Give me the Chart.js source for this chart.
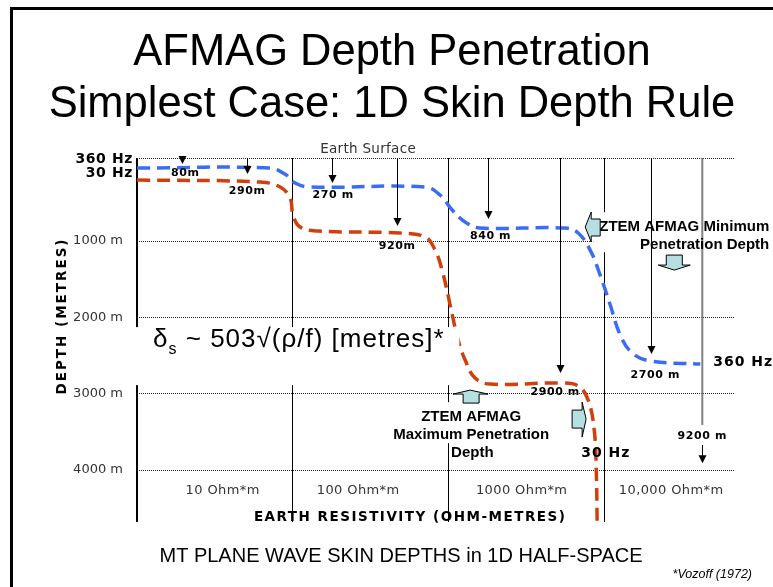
<!DOCTYPE html>
<html>
<head>
<meta charset="utf-8">
<script src="https://cdn.jsdelivr.net/npm/chart.js@4.4.1/dist/chart.umd.min.js"></script>
<style>
    html, body { margin: 0; padding: 0; background: #fff; }
    #skin_chart { display: block; }
</style>
</head>
<body>
<canvas id="skin_chart" width="773" height="587"></canvas>
<script>
// 数据: x = log10(电阻率 Ohm*m), y = 深度 (m, 示意)
const resistivityBounds = [1, 2, 3, 4];
const resistivityLabels = ["10 Ohm*m", "100 Ohm*m", "1000 Ohm*m", "10,000 Ohm*m"];
const resistivityLabelX = [1.55, 2.42, 3.47, 4.43];
const depthTicks = [1000, 2000, 3000, 4000];
const surfaceDepth = -88;
const maxDepth = 4680;

// 360 Hz 曲线
const curve360X = [1.0, 1.85, 1.95, 2.015, 2.11, 2.85, 2.946, 3.024, 3.107, 3.203, 3.749, 3.833, 3.91, 3.974, 4.039, 4.103, 4.18, 4.296, 4.617];
const curve360Y = [43, 43, 122, 240, 292, 292, 397, 593, 751, 829, 829, 895, 1118, 1445, 1838, 2231, 2466, 2571, 2611];

// 30 Hz 曲线
const curve30X = [1.0, 1.79, 1.919, 1.983, 2.002, 2.047, 2.163, 2.69, 2.85, 2.914, 2.959, 3.011, 3.062, 3.107, 3.171, 3.268, 3.717, 3.833, 3.897, 3.936, 3.949, 3.955];
const curve30Y = [200, 227, 292, 436, 659, 816, 869, 895, 947, 1118, 1380, 1838, 2297, 2559, 2795, 2873, 2860, 2899, 3083, 3476, 4000, 4700];

// 深度箭头
const arrowX = [1.29, 1.707, 2.253, 2.67, 3.255, 3.717, 4.302];
const arrowTipDepth = [-8, 122, 240, 803, 711, 2728, 2480];
const arrowText = ["80m", "290m", "270 m", "920m", "840 m", "2900 m", "2700 m"];
const arrowTextX = [1.31, 1.707, 2.26, 2.67, 3.27, 3.685, 4.328];
const arrowTextDepth = [105, 345, 400, 1070, 935, 2975, 2755];

const titleLines = ["AFMAG Depth Penetration", "Simplest Case: 1D Skin Depth Rule"];

var SkinChart = (function() {
    const LIGHT_BLUE = "#b5dfe1";

    function toPoints(xs, ys) {
        return xs.map((x, i) => ({ x: x, y: ys[i] }));
    }

    function drawArrow(ctx, x, y1, y2, color) {
        ctx.strokeStyle = color;
        ctx.fillStyle = color;
        ctx.lineWidth = 1;
        if (y2 - y1 > 8) {
            ctx.beginPath();
            ctx.moveTo(x, y1);
            ctx.lineTo(x, y2 - 7);
            ctx.stroke();
        }
        ctx.beginPath();
        ctx.moveTo(x - 4, y2 - 8);
        ctx.lineTo(x + 4, y2 - 8);
        ctx.lineTo(x, y2);
        ctx.closePath();
        ctx.fill();
    }

    // 浅蓝色块箭头
    function drawBlockArrow(ctx, tx, ty, dir) {
        let pts;
        if (dir === "left") {
            pts = [[0, 0], [6, -15], [6, -8], [15, -8], [15, 9], [6, 9], [6, 15]];
        } else if (dir === "right") {
            pts = [[0, 0], [-4, -17], [-4, -9], [-14, -9], [-14, 9], [-4, 9], [-4, 18]];
        } else if (dir === "up") {
            pts = [[0, 0], [18, 4], [9, 4], [9, 13], [-7, 13], [-7, 4], [-17, 4]];
        } else {
            pts = [[0, 0], [16, -5], [8, -5], [8, -15], [-8, -15], [-8, -5], [-16, -5]];
        }
        ctx.beginPath();
        pts.forEach((p, i) => {
            if (i === 0) ctx.moveTo(tx + p[0], ty + p[1]);
            else ctx.lineTo(tx + p[0], ty + p[1]);
        });
        ctx.closePath();
        ctx.fillStyle = LIGHT_BLUE;
        ctx.fill();
        ctx.strokeStyle = "#000";
        ctx.lineWidth = 1;
        ctx.stroke();
    }

    function whiteBox(ctx, x1, y1, x2, y2) {
        ctx.fillStyle = "#fff";
        ctx.fillRect(x1, y1, x2 - x1, y2 - y1);
    }

    const notesPlugin = {
        id: "notesPlugin",
        beforeDraw(chart) {
            const { ctx, width, height } = chart;
            ctx.save();
            ctx.fillStyle = "#fff";
            ctx.fillRect(0, 0, width, height);

            // 外框
            ctx.fillStyle = "#000";
            ctx.fillRect(10, 7, 3, height - 7);
            ctx.fillRect(10, 7, width - 10, 3);

            // 标题
            ctx.fillStyle = "#000";
            ctx.textAlign = "center";
            ctx.textBaseline = "alphabetic";
            ctx.font = '43.5px "Liberation Sans", Arial, sans-serif';
            ctx.fillText(titleLines[0], 392, 65);
            ctx.fillText(titleLines[1], 392, 117);

            // 底部说明
            ctx.font = '20px "Liberation Sans", Arial, sans-serif';
            ctx.fillText("MT PLANE WAVE SKIN DEPTHS in 1D HALF-SPACE", 401, 562);
            ctx.textAlign = "right";
            ctx.font = 'italic 12.5px "Liberation Sans", Arial, sans-serif';
            ctx.fillText("*Vozoff (1972)", 752, 578);
            ctx.restore();
        },
        afterDatasetsDraw(chart) {
            const { ctx } = chart;
            const xs = chart.scales.x;
            const ys = chart.scales.y;
            const px = (v) => xs.getPixelForValue(v);
            const py = (v) => ys.getPixelForValue(v);
            ctx.save();

            // 文本框遮挡
            whiteBox(ctx, px(0.99), py(2127), px(3.07), py(2887));
            whiteBox(ctx, px(2.638), py(3110), px(3.64), py(3647));
            whiteBox(ctx, px(3.93), py(622), chart.width, py(1146));

            // 深度箭头
            arrowX.forEach((x, i) => {
                drawArrow(ctx, Math.round(px(x)) + 0.5, ys.top, py(arrowTipDepth[i]), "#000");
            });
            // 9200 m (灰线 + 箭头)
            ctx.strokeStyle = "#808080";
            ctx.lineWidth = 2;
            ctx.beginPath();
            ctx.moveTo(px(4.63), ys.top);
            ctx.lineTo(px(4.63), py(3411));
            ctx.stroke();
            drawArrow(ctx, Math.round(px(4.63)) + 0.5, py(3672), py(3910), "#000");

            ctx.fillStyle = "#000";
            ctx.textAlign = "center";
            ctx.textBaseline = "middle";
            ctx.letterSpacing = "0.6px";
            ctx.font = 'bold 11px "DejaVu Sans", Verdana, sans-serif';
            arrowText.forEach((t, i) => {
                ctx.fillText(t, px(arrowTextX[i]), py(arrowTextDepth[i]));
            });
            ctx.fillText("9200 m", px(4.63), py(3555));

            // 地表
            ctx.fillStyle = "#333";
            ctx.letterSpacing = "0.3px";
            ctx.font = '13.5px "DejaVu Sans", Verdana, sans-serif';
            ctx.fillText("Earth Surface", px(2.484), py(-193));

            // 电阻率分区标签
            ctx.font = '13px "DejaVu Sans", Verdana, sans-serif';
            ctx.letterSpacing = "0.4px";
            resistivityLabels.forEach((t, i) => {
                ctx.fillText(t, px(resistivityLabelX[i]), py(4270));
            });

            // 轴标题
            ctx.fillStyle = "#000";
            ctx.font = 'bold 13.5px "DejaVu Sans", Verdana, sans-serif';
            ctx.letterSpacing = "1.5px";
            ctx.fillText("EARTH RESISTIVITY (OHM-METRES)", px(2.754), py(4615));
            ctx.save();
            ctx.translate(62, 316);
            ctx.rotate(-Math.PI / 2);
            ctx.letterSpacing = "2px";
            ctx.fillText("DEPTH (METRES)", 0, 0);
            ctx.restore();

            // 频率标签
            ctx.font = 'bold 14px "DejaVu Sans", Verdana, sans-serif';
            ctx.letterSpacing = "0.6px";
            ctx.textAlign = "right";
            ctx.fillText("360 Hz", px(0.974), py(-75));
            ctx.fillText("30 Hz", px(0.974), py(109));
            ctx.textAlign = "left";
            ctx.letterSpacing = "1px";
            ctx.fillText("360 Hz", px(4.7), py(2585));
            ctx.fillText("30 Hz", px(3.852), py(3777));

            // 公式
            ctx.letterSpacing = "1px";
            ctx.textBaseline = "alphabetic";
            ctx.font = '26px "Liberation Sans", Arial, sans-serif';
            let fx = px(1.103);
            const fy = py(2390);
            ctx.fillText("δ", fx, fy);
            fx += ctx.measureText("δ").width;
            ctx.font = '16px "Liberation Sans", Arial, sans-serif';
            ctx.fillText("s", fx, fy + 7);
            fx += ctx.measureText("s").width;
            ctx.font = '26px "Liberation Sans", Arial, sans-serif';
            ctx.fillText(" ~ 503\u221A(\u03C1/f) [metres]*", fx, fy);

            // ZTEM 文本
            ctx.letterSpacing = "0px";
            ctx.textBaseline = "middle";
            ctx.font = 'bold 15px "Liberation Sans", Arial, sans-serif';
            ctx.textAlign = "right";
            ctx.fillText("ZTEM AFMAG Minimum", px(5.06), py(816));
            ctx.fillText("Penetration Depth", px(5.06), py(1052));
            ctx.textAlign = "center";
            ctx.fillText("ZTEM AFMAG", px(3.146), py(3305));
            ctx.fillText("Maximum Penetration", px(3.146), py(3541));
            ctx.textAlign = "left";
            ctx.fillText("Depth", px(3.017), py(3777));

            // 块箭头
            drawBlockArrow(ctx, px(3.878), py(816), "left");
            drawBlockArrow(ctx, px(4.45), py(1380), "down");
            drawBlockArrow(ctx, px(3.139), py(2952), "up");
            drawBlockArrow(ctx, px(3.884), py(3332), "right");

            ctx.restore();
        },
    };

    function createChart(ctx_id) {
        const ctx = document.getElementById(ctx_id).getContext("2d");
        const lineStyle = {
            borderWidth: 3.5,
            borderDash: [13, 7],
            pointRadius: 0,
            tension: 0.4,
            fill: false,
        };
        return new Chart(ctx, {
            type: "line",
            data: {
                datasets: [
                    Object.assign({ label: "360 Hz", data: toPoints(curve360X, curve360Y), borderColor: "#3a6cf6" }, lineStyle),
                    Object.assign({ label: "30 Hz", data: toPoints(curve30X, curve30Y), borderColor: "#d0400c" }, lineStyle),
                ],
            },
            options: {
                responsive: false,
                animation: false,
                layout: { padding: { left: 0, top: 158, right: 38, bottom: 65 } },
                scales: {
                    x: {
                        type: "linear",
                        min: 1,
                        max: 4.84,
                        afterBuildTicks(scale) {
                            scale.ticks = resistivityBounds.map((v) => ({ value: v }));
                        },
                        afterFit(scale) { scale.height = 0; },
                        ticks: { display: false },
                        grid: {
                            color: "#000",
                            lineWidth: (c) => (c.index === 0 ? 2 : 1),
                            drawTicks: false,
                        },
                        border: { display: false },
                    },
                    y: {
                        type: "linear",
                        reverse: true,
                        min: surfaceDepth,
                        max: maxDepth,
                        afterBuildTicks(scale) {
                            scale.ticks = [surfaceDepth].concat(depthTicks).map((v) => ({ value: v }));
                        },
                        afterFit(scale) { scale.width = 137; },
                        ticks: {
                            padding: 14,
                            color: "#333",
                            font: { family: '"DejaVu Sans", Verdana, sans-serif', size: 13 },
                            callback: (v) => (v === surfaceDepth ? "" : v + " m"),
                        },
                        grid: { color: "#222", lineWidth: 1, drawTicks: false },
                        border: { display: false, dash: [1, 1] },
                    },
                },
                plugins: {
                    legend: { display: false },
                    tooltip: { enabled: false },
                },
            },
            plugins: [notesPlugin],
        });
    }

    return { createChart: createChart };
})();

SkinChart.createChart("skin_chart");
</script>
</body>
</html>
